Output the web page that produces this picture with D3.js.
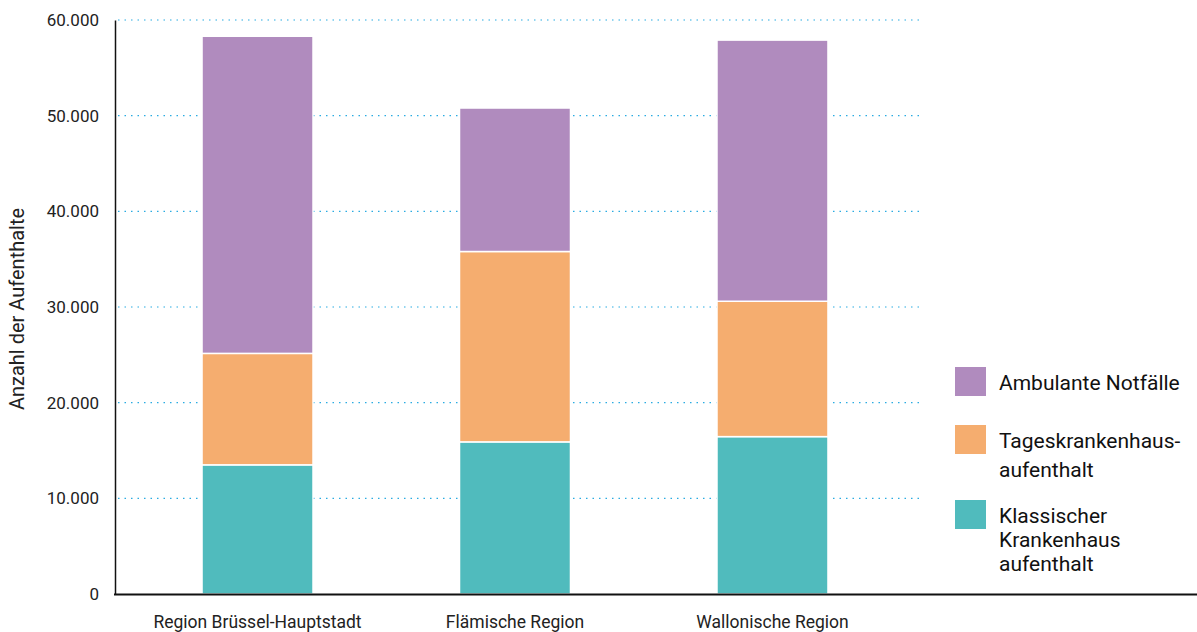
<!DOCTYPE html>
<meta charset="utf-8">
<style>
body { margin: 0; background: #fff; }
text { font-family: "Roboto", sans-serif; fill: #222; }
.tick text { font-size: 17px; }
.grid line { stroke: #29abe2; stroke-dasharray: 1.5 5; stroke-width: 1.2px; }
</style>
<body>
<script src="https://d3js.org/d3.v7.min.js"></script>
<script>

// data
var regions = ["Region Brüssel-Hauptstadt", "Flämische Region", "Wallonische Region"];
var klassisch = [13500, 15900, 16450];
var tages = [11650, 19900, 14150];
var ambulant = [33150, 15000, 27300];
var seriesNames = ["Klassischer Krankenhaus aufenthalt", "Tageskrankenhaus-aufenthalt", "Ambulante Notfälle"];
var colors = ["#50bbbd", "#f5ad6f", "#b08bbe"];
var yTicks = [0, 10000, 20000, 30000, 40000, 50000, 60000];

var W = 1197, H = 632;

var svg = d3.select("body").append("svg")
    .attr("width", W)
    .attr("height", H);

var x = d3.scaleBand().domain(regions).range([115, 915])
    .paddingInner(0.569).paddingOuter(0.338);
var y = d3.scaleLinear().domain([0, 60000]).range([594, 20]);

var fmt = d3.format(",");
function deFmt(v) { return fmt(v).replace(/,/g, "."); }

// gridlines
svg.append("g")
    .attr("class", "grid")
    .selectAll("line")
    .data(yTicks.slice(1))
    .enter().append("line")
    .attr("x1", 118).attr("x2", 922)
    .attr("y1", function(d) { return y(d); })
    .attr("y2", function(d) { return y(d); });

// stacked bars
var rows = regions.map(function(r, i) {
  return { region: r, k: klassisch[i], t: tages[i], a: ambulant[i] };
});
var stack = d3.stack().keys(["k", "t", "a"])(rows);

svg.append("g").selectAll("g")
    .data(stack)
    .enter().append("g")
    .attr("fill", function(d, i) { return colors[i]; })
    .selectAll("rect")
    .data(function(d) { return d; })
    .enter().append("rect")
    .attr("x", function(d) { return x(d.data.region); })
    .attr("width", x.bandwidth())
    .attr("y", function(d) { return y(d[1]); })
    .attr("height", function(d) { return y(d[0]) - y(d[1]); })
    .attr("stroke", "#fff")
    .attr("stroke-width", 1.5);

// y axis
var gY = svg.append("g")
    .attr("transform", "translate(115,0)")
    .call(d3.axisLeft(y).tickValues(yTicks).tickFormat(deFmt).tickSize(0).tickPadding(16));
gY.select(".domain").attr("stroke", "#111").attr("stroke-width", 1.5);

// x axis line
svg.append("line")
    .attr("x1", 114).attr("x2", W)
    .attr("y1", 594.5).attr("y2", 594.5)
    .attr("stroke", "#111").attr("stroke-width", 2);

svg.append("g").selectAll("text")
    .data(regions)
    .enter().append("text")
    .attr("x", function(d) { return x(d) + x.bandwidth() / 2; })
    .attr("y", 628)
    .attr("text-anchor", "middle")
    .attr("font-size", 17.5)
    .text(function(d) { return d; });

svg.append("text")
    .attr("transform", "translate(24,309) rotate(-90)")
    .attr("text-anchor", "middle")
    .attr("font-size", 20)
    .text("Anzahl der Aufenthalte");

// legend
var legend = [
  { c: colors[2], y: 367, lines: ["Ambulante Notfälle"] },
  { c: colors[1], y: 425, lines: ["Tageskrankenhaus-", "aufenthalt"] },
  { c: colors[0], y: 500, lines: ["Klassischer", "Krankenhaus", "aufenthalt"] }
];
var lg = svg.append("g").selectAll("g")
    .data(legend)
    .enter().append("g");
lg.append("rect")
    .attr("x", 955).attr("y", function(d) { return d.y; })
    .attr("width", 31).attr("height", 29)
    .attr("fill", function(d) { return d.c; });
lg.each(function(d) {
  var gap = d.lines.length > 2 ? 24 : 29;
  d3.select(this).selectAll("text")
    .data(d.lines)
    .enter().append("text")
    .attr("x", 999)
    .attr("y", function(t, i) { return d.y + 23 + i * gap; })
    .attr("font-size", 21)
    .style("fill", "#111")
    .text(function(t) { return t; });
});

</script>
</body>
